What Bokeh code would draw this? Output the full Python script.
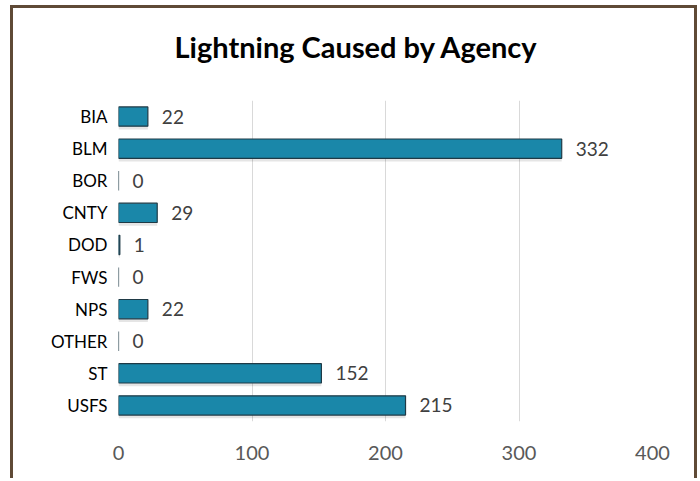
from bokeh.plotting import figure
from bokeh.models import ColumnDataSource, FactorRange, Title, LabelSet
from bokeh.transform import dodge
from bokeh.core.properties import value
from bokeh.embed import file_html
from bokeh.resources import INLINE

agencies = ["BIA", "BLM", "BOR", "CNTY", "DOD", "FWS", "NPS", "OTHER", "ST", "USFS"]
counts = [22, 332, 0, 29, 1, 0, 22, 0, 152, 215]
x_ticks = [0, 100, 200, 300, 400]
title_text = "Lightning Caused by Agency"

FONT = "Lato"
BAR = "#1a87a9"
EDGE = "#5f4a36"

src = ColumnDataSource(dict(agency=agencies, count=counts, label=[str(c) for c in counts]))

p = figure(
    width=687, height=473,
    y_range=FactorRange(factors=list(reversed(agencies))),
    x_range=(0, 400),
    output_backend="svg", toolbar_location=None,
    min_border_left=105, min_border_right=48, min_border_top=92, min_border_bottom=60,
)
p.border_fill_color = None
p.styles = {"margin-left": "10px", "margin-top": "5px",
            "border-top": f"3px solid {EDGE}", "border-left": f"3px solid {EDGE}",
            "border-right": f"3px solid {EDGE}"}

# spacer between frame and title (closest to the frame)
p.add_layout(Title(text=" ", text_font_size="1px", standoff=29), "above")
t = Title(text=title_text, align="left", text_font=FONT,
          text_font_size="29px", text_font_style="bold", text_color="#000000",
          standoff=10, offset=56)
p.add_layout(t, "above")

# soft shadow
p.hbar(y=dodge("agency", -0.1, range=p.y_range), right="count", left=0, height=0.6,
       source=src, fill_color="#000000", fill_alpha=0.10, line_color=None)
p.hbar(y="agency", right="count", left=0, height=0.6, source=src,
       fill_color=BAR, line_color="#1f3a46", line_width=1.2)

labels = LabelSet(x="count", y="agency", text="label", source=src,
                  x_offset=14, y_offset=0, text_align="left", text_baseline="middle",
                  text_font=value(FONT), text_font_size=value("19px"), text_color="#404040")
p.add_layout(labels)

p.xaxis.ticker = x_ticks
p.xgrid.ticker = x_ticks
p.xgrid.grid_line_color = "#d9d9d9"
p.ygrid.grid_line_color = None
p.outline_line_color = None
p.xaxis.axis_line_color = None
p.xaxis.major_tick_line_color = None
p.xaxis.minor_tick_line_color = None
p.xaxis.major_label_text_font = FONT
p.xaxis.major_label_text_font_size = "20px"
p.xaxis.major_label_text_color = "#595959"
p.xaxis.major_label_standoff = 18
p.yaxis.axis_line_color = None
p.yaxis.major_tick_line_color = None
p.yaxis.major_label_text_font = FONT
p.yaxis.major_label_text_font_size = "17px"
p.yaxis.major_label_text_color = "#000000"
p.yaxis.major_label_standoff = 5

open("out.html", "w").write(file_html(p, INLINE))
